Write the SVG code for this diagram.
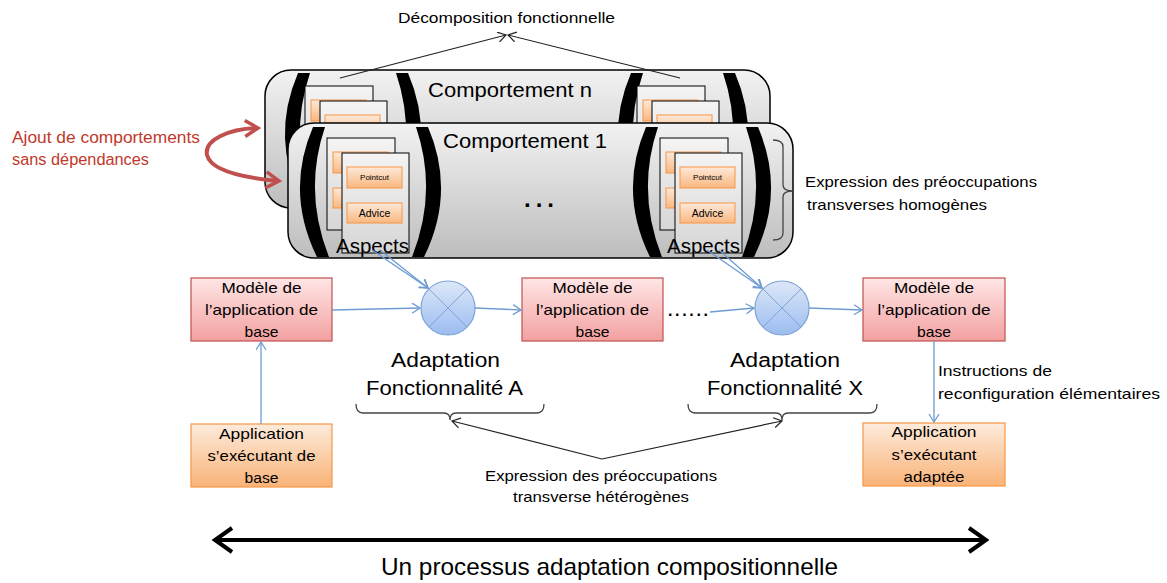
<svg xmlns="http://www.w3.org/2000/svg" xmlns:xlink="http://www.w3.org/1999/xlink" width="1167" height="583" viewBox="0 0 1167 583">
<style>
text{font-family:"Liberation Sans",Arial,sans-serif;fill:#000;}
.panel{stroke:#000;stroke-width:1.5;fill:url(#gPanel);}
.card{stroke:#000;stroke-width:1;fill:url(#gCard);}
.obox{stroke:#f79646;stroke-width:1;fill:url(#gOrange);}
.model{stroke:#c0504d;stroke-width:1.2;fill:url(#gRed);}
.app{stroke:#f79646;stroke-width:1.2;fill:url(#gApp);}
.circ{stroke:#7ea3d6;stroke-width:1.2;fill:url(#gBlue);}
.cx{stroke:#7ea3d6;stroke-width:1;}
.blue{stroke:#6f9bd3;stroke-width:1.3;fill:none;marker-end:url(#ab);}
.blk{stroke:#222;stroke-width:1.2;fill:none;marker-end:url(#ak);}
.brace{stroke:#444;stroke-width:1.3;fill:none;}
.paren{fill:#000;}
.t15{font-size:15px;}
.t20{font-size:20px;}
.mid{text-anchor:middle;}
.red{fill:#c0392b;}
</style>
<defs>
<linearGradient id="gPanel" x1="0" y1="0" x2="0" y2="1"><stop offset="0" stop-color="#f2f2f2"/><stop offset="1" stop-color="#bdbdbd"/></linearGradient>
<linearGradient id="gCard" x1="0" y1="0" x2="0" y2="1"><stop offset="0" stop-color="#f4f4f4"/><stop offset="1" stop-color="#d6d6d6"/></linearGradient>
<linearGradient id="gOrange" x1="0" y1="0" x2="0" y2="1"><stop offset="0" stop-color="#fde9d9"/><stop offset="1" stop-color="#fab77f"/></linearGradient>
<linearGradient id="gRed" x1="0" y1="0" x2="0" y2="1"><stop offset="0" stop-color="#ffe6e6"/><stop offset="1" stop-color="#f3a0a0"/></linearGradient>
<linearGradient id="gApp" x1="0" y1="0" x2="0" y2="1"><stop offset="0" stop-color="#fdebdc"/><stop offset="1" stop-color="#f9b378"/></linearGradient>
<linearGradient id="gBlue" x1="0" y1="0" x2="0" y2="1"><stop offset="0" stop-color="#dde8f8"/><stop offset="1" stop-color="#9bbcef"/></linearGradient>
<marker id="ab" markerUnits="userSpaceOnUse" markerWidth="12" markerHeight="12" refX="9" refY="5.5" orient="auto"><path d="M1,0.5 L9,5.5 L1,10.5" fill="none" stroke="#6f9bd3" stroke-width="1.3"/></marker>
<marker id="ak" markerUnits="userSpaceOnUse" markerWidth="12" markerHeight="12" refX="9" refY="5.5" orient="auto"><path d="M1,0.5 L9,5.5 L1,10.5" fill="none" stroke="#222" stroke-width="1.2"/></marker>
<marker id="abig" markerUnits="userSpaceOnUse" markerWidth="26" markerHeight="30" refX="20" refY="15" orient="auto-start-reverse"><path d="M3,3 L20,15 L3,27" fill="none" stroke="#000" stroke-width="4"/></marker>
<marker id="ared" markerUnits="userSpaceOnUse" markerWidth="22" markerHeight="22" refX="16" refY="11" orient="auto-start-reverse"><path d="M3,3 L16,11 L3,19" fill="none" stroke="#c0504d" stroke-width="3.5"/></marker>
<path id="lpar" d="M18,0 Q-10,65 22,130 L34,130 Q8,65 30,0 Z"/>
<g id="stack">
<rect class="card" x="0" y="0" width="68" height="92"/>
<rect class="obox" x="6" y="14" width="55" height="21"/>
<text x="33.5" y="27" font-size="8" text-anchor="middle">Pointcut</text>
<rect class="obox" x="6" y="50" width="55" height="20"/>
<text x="33.5" y="64" font-size="10.5" text-anchor="middle">Advice</text>
<rect class="card" x="15" y="15" width="67" height="100"/>
<rect class="obox" x="20" y="29" width="55" height="21"/>
<text x="47.5" y="42" font-size="8" text-anchor="middle">Pointcut</text>
<rect class="obox" x="20" y="65" width="55" height="20"/>
<text x="47.5" y="79" font-size="10.5" text-anchor="middle">Advice</text>
</g>
</defs>
<rect width="1167" height="583" fill="#fff"/>

<g id="label-decomposition">
<text class="t15" x="398" y="23" textLength="217" lengthAdjust="spacingAndGlyphs">Décomposition fonctionnelle</text>
</g>

<g id="comportement-n">
<rect class="panel" x="265" y="70" width="505" height="138" rx="26"/>
<use xlink:href="#lpar" class="paren" transform="translate(280,73)"/>
<use xlink:href="#lpar" class="paren" transform="translate(426,73) scale(-1,1)"/>
<use xlink:href="#lpar" class="paren" transform="translate(613,73)"/>
<use xlink:href="#lpar" class="paren" transform="translate(753,73) scale(-1,1)"/>
<use xlink:href="#stack" transform="translate(305,86)"/>
<use xlink:href="#stack" transform="translate(637,86)"/>
<text class="t20" x="428" y="97" textLength="164" lengthAdjust="spacingAndGlyphs">Comportement n</text>
</g>

<g id="comportement-1">
<rect class="panel" x="288" y="123" width="505" height="135" rx="26"/>
<use xlink:href="#lpar" class="paren" transform="translate(295,127)"/>
<use xlink:href="#lpar" class="paren" transform="translate(446,127) scale(-1,1)"/>
<use xlink:href="#lpar" class="paren" transform="translate(628,127)"/>
<use xlink:href="#lpar" class="paren" transform="translate(776,127) scale(-1,1)"/>
<use xlink:href="#stack" transform="translate(327,138)"/>
<use xlink:href="#stack" transform="translate(660,138)"/>
<text class="t20" x="443" y="148" textLength="164" lengthAdjust="spacingAndGlyphs">Comportement 1</text>
<text x="524" y="207" font-size="24" font-weight="bold" textLength="30" lengthAdjust="spacing">...</text>
<text x="336" y="253" font-size="21" textLength="73" lengthAdjust="spacingAndGlyphs">Aspects</text>
<text x="667" y="253" font-size="21" textLength="73" lengthAdjust="spacingAndGlyphs">Aspects</text>
</g>

<g id="label-homogenes">
<path class="brace" d="M773,140 Q783,140 783,147 L783,185 Q783,191 793,191 Q783,191 783,197 L783,233 Q783,240 773,240"/>
<text class="t15" x="805" y="187" textLength="232" lengthAdjust="spacingAndGlyphs">Expression des préoccupations</text>
<text class="t15" x="807" y="210" textLength="180" lengthAdjust="spacingAndGlyphs">transverses homogènes</text>
</g>

<g id="label-ajout">
<text class="red" font-size="16" x="12" y="143" textLength="188" lengthAdjust="spacingAndGlyphs">Ajout de comportements</text>
<text class="red" font-size="16" x="12" y="165" textLength="137" lengthAdjust="spacingAndGlyphs">sans dépendances</text>
<path d="M258,128 C228,129 204,140 207,155 C211,171 245,178 279,181" fill="none" stroke="#c0504d" stroke-width="4" marker-start="url(#ared)" marker-end="url(#ared)"/>
</g>

<g id="model-base">
<rect class="model" x="191" y="278" width="141" height="63"/>
<text class="t15 mid" x="261.5" y="293" textLength="80" lengthAdjust="spacingAndGlyphs">Modèle de</text>
<text class="t15 mid" x="261.5" y="315" textLength="113" lengthAdjust="spacingAndGlyphs">l’application de</text>
<text class="t15 mid" x="261.5" y="337" textLength="34" lengthAdjust="spacingAndGlyphs">base</text>
</g>
<g id="model-mid">
<rect class="model" x="522" y="278" width="141" height="63"/>
<text class="t15 mid" x="592.5" y="293" textLength="80" lengthAdjust="spacingAndGlyphs">Modèle de</text>
<text class="t15 mid" x="592.5" y="315" textLength="113" lengthAdjust="spacingAndGlyphs">l’application de</text>
<text class="t15 mid" x="592.5" y="337" textLength="34" lengthAdjust="spacingAndGlyphs">base</text>
</g>
<g id="model-final">
<rect class="model" x="863" y="278" width="142" height="63"/>
<text class="t15 mid" x="934" y="293" textLength="80" lengthAdjust="spacingAndGlyphs">Modèle de</text>
<text class="t15 mid" x="934" y="315" textLength="113" lengthAdjust="spacingAndGlyphs">l’application de</text>
<text class="t15 mid" x="934" y="337" textLength="34" lengthAdjust="spacingAndGlyphs">base</text>
</g>

<g id="dots">
<text x="668" y="316" font-size="16" font-weight="bold" textLength="40" lengthAdjust="spacing">......</text>
</g>

<g id="adapt-a">
<circle class="circ" cx="448" cy="308" r="27"/>
<path class="cx" d="M429,289 L467,327 M467,289 L429,327"/>
<text class="t20 mid" x="445.5" y="367" textLength="109" lengthAdjust="spacingAndGlyphs">Adaptation</text>
<text class="t20 mid" x="444.5" y="395" textLength="157" lengthAdjust="spacingAndGlyphs">Fonctionnalité A</text>
<path class="brace" d="M356,404 Q356,413 363,413 L444,413 Q450,413 450,420 Q450,413 456,413 L537,413 Q544,413 544,404"/>
</g>
<g id="adapt-x">
<circle class="circ" cx="782" cy="308" r="27"/>
<path class="cx" d="M763,289 L801,327 M801,289 L763,327"/>
<text class="t20 mid" x="785" y="367" textLength="110" lengthAdjust="spacingAndGlyphs">Adaptation</text>
<text class="t20 mid" x="785" y="395" textLength="156" lengthAdjust="spacingAndGlyphs">Fonctionnalité X</text>
<path class="brace" d="M688,404 Q688,413 695,413 L776,413 Q782,413 782,420 Q782,413 788,413 L870,413 Q877,413 877,404"/>
</g>

<g id="app-base">
<rect class="app" x="191" y="424" width="141" height="63"/>
<text class="t15 mid" x="261.5" y="439" textLength="85" lengthAdjust="spacingAndGlyphs">Application</text>
<text class="t15 mid" x="261.5" y="461" textLength="108" lengthAdjust="spacingAndGlyphs">s’exécutant de</text>
<text class="t15 mid" x="261.5" y="483" textLength="34" lengthAdjust="spacingAndGlyphs">base</text>
</g>
<g id="app-adapted">
<rect class="app" x="863" y="423" width="142" height="63"/>
<text class="t15 mid" x="934" y="437" textLength="85" lengthAdjust="spacingAndGlyphs">Application</text>
<text class="t15 mid" x="934" y="460" textLength="85" lengthAdjust="spacingAndGlyphs">s’exécutant</text>
<text class="t15 mid" x="934" y="482" textLength="61" lengthAdjust="spacingAndGlyphs">adaptée</text>
</g>

<g id="label-instructions">
<text class="t15" x="938" y="376" textLength="114" lengthAdjust="spacingAndGlyphs">Instructions de</text>
<text class="t15" x="938" y="399" textLength="222" lengthAdjust="spacingAndGlyphs">reconfiguration élémentaires</text>
</g>

<g id="label-heterogenes">
<text class="t15 mid" x="601" y="481" textLength="232" lengthAdjust="spacingAndGlyphs">Expression des préoccupations</text>
<text class="t15 mid" x="601" y="502" textLength="176" lengthAdjust="spacingAndGlyphs">transverse hétérogènes</text>
</g>

<g id="label-processus">
<text x="609.5" y="575" font-size="24" text-anchor="middle" textLength="457" lengthAdjust="spacingAndGlyphs">Un processus adaptation compositionnelle</text>
</g>

<g id="connectors">
<line class="blk" x1="340" y1="78" x2="506" y2="35"/>
<line class="blk" x1="680" y1="78" x2="508" y2="35"/>
<line class="blue" x1="372" y1="250" x2="428" y2="288"/>
<line class="blue" x1="380" y1="250" x2="428" y2="288"/>
<line class="blue" x1="707" y1="250" x2="762" y2="288"/>
<line class="blue" x1="719" y1="250" x2="762" y2="288"/>
<line class="blue" x1="332" y1="310" x2="420" y2="308"/>
<line class="blue" x1="475" y1="308" x2="521" y2="310"/>
<line class="blue" x1="710" y1="312" x2="754" y2="308"/>
<line class="blue" x1="809" y1="308" x2="862" y2="310"/>
<line class="blue" x1="261" y1="424" x2="261" y2="342"/>
<line class="blue" x1="934" y1="341" x2="934" y2="422"/>
<line class="blk" x1="602" y1="459" x2="452" y2="421"/>
<line class="blk" x1="602" y1="459" x2="782" y2="421"/>
<line x1="215" y1="540" x2="986" y2="540" stroke="#000" stroke-width="4" marker-start="url(#abig)" marker-end="url(#abig)"/>
</g>
</svg>
